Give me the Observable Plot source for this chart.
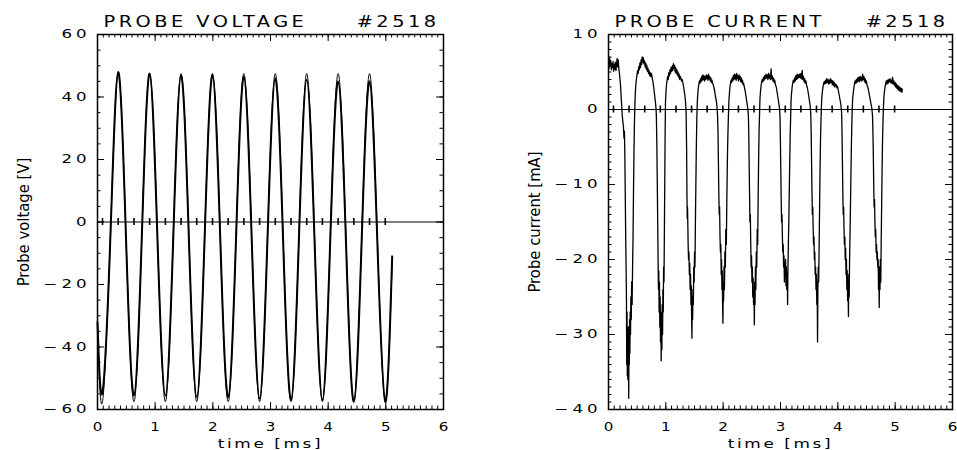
<!DOCTYPE html>
<html>
<head>
<meta charset="utf-8">
<script src="https://cdn.jsdelivr.net/npm/d3@7"></script>
<script src="https://cdn.jsdelivr.net/npm/@observablehq/plot@0.6"></script>
<style>
  body { margin: 0; background: #fff; }
  #charts { display: flex; width: 957px; height: 450px; }
  #charts svg { display: block; }
</style>
</head>
<body>
<div id="charts"></div>
<script>
// Times of the voltage extrema (troughs and crests), marked on the zero line
const extremaTimes = [0.087, 0.359, 0.632, 0.904, 1.177, 1.449, 1.721, 1.994, 2.266, 2.538,
  2.811, 3.083, 3.356, 3.628, 3.900, 4.173, 4.445, 4.717, 4.990];

// Probe voltage: samples at the extrema and the mid-swing points [ms]
const voltageTime = [0, 0.087, 0.223, 0.359, 0.495, 0.632, 0.768, 0.904, 1.040, 1.177, 1.313,
  1.449, 1.585, 1.721, 1.857, 1.994, 2.130, 2.266, 2.402, 2.538, 2.675, 2.811, 2.947, 3.083,
  3.219, 3.356, 3.492, 3.628, 3.764, 3.900, 4.036, 4.173, 4.309, 4.445, 4.581, 4.717, 4.853,
  4.990, 5.110];
// measured probe voltage [V]
const voltageMeasured = [-32, -54.5, -5, 48, -5.5, -55.5, -5, 47.5, -5.5, -55.5, -5.5, 47, -5.5,
  -56, -5.5, 47, -6, -56, -5.5, 46.5, -6, -56.5, -6, 46, -6, -57, -6, 45.5, -6, -57, -6, 45,
  -6.5, -57.5, -6, 45, -6.5, -57.5, -11];
// sine fit to the probe voltage [V]
const voltageFit = [-33, -57.5, -5, 47.5, -5, -57.5, -5, 47.5, -5, -57.5, -5, 47.5, -5, -57.5,
  -5, 47.5, -5, -57.5, -5, 47.5, -5, -57.5, -5, 47.5, -5, -57.5, -5, 47.5, -5, -57.5, -5, 47.5,
  -5, -57.5, -5, 47.5, -5, -57.5, -13];

// Probe current [time ms, current mA]
const probeCurrent = [
  [0.000, 6.2],[0.010, 5.5],[0.020, 6.9],[0.030, 5.8],[0.040, 6.5],[0.050, 5.3],[0.060, 6.1],[0.070, 5.6],
  [0.080, 6.4],[0.090, 5.1],[0.100, 6.0],[0.110, 5.4],[0.120, 6.3],[0.130, 5.2],[0.140, 6.0],[0.150, 6.8],
  [0.160, 5.7],[0.170, 6.6],[0.180, 5.5],[0.190, 4.9],[0.200, 4.1],[0.210, 3.2],[0.220, 1.8],[0.230, 0.6],
  [0.240, -0.8],[0.250, -1.6],[0.260, -2.2],[0.270, -3.8],[0.278, -2.9],[0.285, -6],[0.292, -11],[0.300, -17],
  [0.307, -21],[0.313, -25],[0.318, -34],[0.323, -27],[0.328, -35.5],[0.333, -30],[0.338, -36],[0.343, -29],
  [0.348, -33],[0.353, -38.5],[0.358, -30],[0.363, -34],[0.368, -28],[0.373, -32.5],[0.378, -27],[0.384, -30],
  [0.390, -25],[0.397, -28],[0.404, -23],[0.412, -26],[0.420, -21],[0.428, -17],[0.436, -11],[0.444, -6],
  [0.452, -2],[0.460, 0.5],
  [0.468, 2.2],[0.478, 3.4],[0.488, 4.1],[0.498, 4.7],[0.508, 5.2],[0.518, 4.8],[0.528, 5.7],[0.538, 5.3],
  [0.548, 6.2],[0.558, 5.6],[0.568, 6.6],[0.578, 6.0],[0.588, 7.0],[0.598, 6.3],[0.608, 6.9],[0.618, 6.1],
  [0.628, 6.5],[0.638, 5.7],[0.648, 6.2],[0.658, 5.4],[0.668, 5.9],[0.678, 5.1],[0.688, 5.5],[0.698, 4.8],
  [0.708, 5.2],[0.718, 4.5],[0.728, 4.9],[0.738, 4.4],[0.750, 4.8],[0.762, 4.2],[0.775, 3.7],[0.788, 3.0],
  [0.800, 2.2],[0.812, 1.4],[0.824, 0.6],[0.834, -0.6],
  [0.842, -4],[0.850, -9],[0.858, -15],[0.865, -20],[0.871, -24],[0.877, -21.5],[0.883, -27],[0.889, -23],
  [0.895, -29],[0.901, -25],[0.907, -31],[0.913, -27],[0.919, -33.5],[0.925, -28],[0.931, -32],[0.937, -26],
  [0.943, -30],[0.949, -24],[0.955, -27],[0.961, -21],[0.968, -23],[0.975, -16],[0.982, -9],[0.988, -3],
  [0.994, 1.0],
  [1.002, 2.3],[1.012, 3.3],[1.022, 3.9],[1.032, 4.4],[1.042, 4.0],[1.052, 4.9],[1.062, 4.5],[1.072, 5.3],
  [1.082, 4.8],[1.092, 5.6],[1.102, 5.1],[1.112, 5.8],[1.122, 5.2],[1.132, 6.1],[1.142, 5.5],[1.152, 5.9],
  [1.162, 5.0],[1.172, 5.6],[1.182, 4.8],[1.192, 5.3],[1.202, 4.6],[1.212, 5.0],[1.222, 4.3],[1.232, 4.7],
  [1.242, 4.0],[1.252, 4.4],[1.262, 4.2],[1.274, 3.8],[1.286, 4.0],[1.298, 3.5],[1.310, 3.0],[1.322, 2.4],
  [1.334, 1.8],[1.346, 0.8],[1.354, -0.5],
  [1.362, -5],[1.368, -11],[1.373, -14.5],[1.378, -13],[1.383, -15],[1.389, -18],[1.396, -20],[1.403, -19],
  [1.410, -22],[1.417, -20.5],[1.424, -24],[1.431, -22],[1.438, -26],[1.444, -23.5],[1.450, -28],[1.455, -30.5],
  [1.461, -25],[1.467, -28],[1.473, -24],[1.480, -26],[1.487, -21],[1.494, -23],[1.501, -19],[1.508, -21],
  [1.516, -15],[1.524, -10],[1.532, -5],[1.540, -1.5],[1.548, 0.8],
  [1.556, 1.9],[1.565, 2.8],[1.575, 3.3],[1.585, 3.8],[1.595, 3.5],[1.605, 4.1],[1.615, 3.7],[1.625, 4.4],
  [1.635, 3.9],[1.645, 4.6],[1.655, 4.0],[1.665, 4.5],[1.675, 3.8],[1.685, 4.4],[1.695, 4.0],[1.705, 4.6],
  [1.715, 4.1],[1.725, 4.5],[1.735, 3.9],[1.745, 4.7],[1.755, 4.1],[1.765, 4.4],[1.775, 3.8],[1.785, 4.2],
  [1.795, 3.6],[1.805, 3.9],[1.815, 3.5],[1.827, 3.3],[1.840, 2.9],[1.853, 2.4],[1.866, 1.7],[1.879, 1.2],
  [1.892, 0.4],[1.902, -0.8],
  [1.910, -3],[1.917, -7],[1.924, -11],[1.931, -14],[1.938, -13],[1.945, -17],[1.952, -19],[1.959, -18],
  [1.966, -22],[1.972, -20],[1.978, -24],[1.984, -21.5],[1.990, -26],[1.996, -28.5],[2.002, -23],[2.008, -25.5],
  [2.015, -21],[2.022, -24],[2.030, -19],[2.038, -21],[2.046, -16],[2.055, -18],[2.064, -12],[2.073, -7],
  [2.082, -3.5],[2.091, -1],[2.100, 1.2],
  [2.108, 2.0],[2.117, 2.9],[2.127, 3.4],[2.137, 3.9],[2.147, 3.6],[2.157, 4.2],[2.167, 3.8],[2.177, 4.5],
  [2.187, 4.0],[2.197, 4.7],[2.207, 4.1],[2.217, 4.6],[2.227, 3.9],[2.237, 4.8],[2.247, 4.2],[2.257, 4.5],
  [2.267, 3.8],[2.277, 4.6],[2.287, 4.0],[2.297, 4.4],[2.307, 3.7],[2.317, 4.2],[2.327, 3.6],[2.337, 3.9],
  [2.347, 3.3],[2.357, 3.5],[2.369, 3.0],[2.381, 2.6],[2.393, 2.0],[2.405, 1.4],[2.417, 0.8],[2.429, 0.2],
  [2.440, -0.8],
  [2.446, -3],[2.453, -7],[2.460, -11],[2.467, -15],[2.474, -14],[2.481, -18],[2.488, -21],[2.495, -19.5],
  [2.502, -23],[2.509, -21],[2.516, -25],[2.523, -22.5],[2.530, -26],[2.537, -24],[2.544, -28.7],[2.550, -23],
  [2.556, -26],[2.563, -21],[2.570, -24],[2.578, -19],[2.586, -21],[2.594, -16],[2.602, -18],[2.610, -12],
  [2.618, -7],[2.626, -3],[2.634, -0.8],[2.642, 1.5],
  [2.650, 2.3],[2.660, 3.1],[2.670, 3.6],[2.681, 4.0],[2.692, 3.7],[2.703, 4.3],[2.714, 3.9],[2.725, 4.5],
  [2.736, 4.1],[2.747, 4.7],[2.758, 4.2],[2.769, 4.6],[2.780, 4.0],[2.791, 4.8],[2.802, 4.2],[2.813, 4.6],
  [2.824, 4.0],[2.836, 5.4],[2.845, 4.1],[2.856, 4.5],[2.867, 3.8],[2.878, 4.2],[2.889, 3.6],[2.900, 3.9],
  [2.911, 3.3],[2.923, 3.1],[2.935, 2.6],[2.947, 2.0],[2.959, 1.4],[2.971, 0.8],[2.982, 0.2],[2.991, -0.8],
  [2.998, -4],[3.005, -8],[3.012, -12],[3.019, -15],[3.026, -14],[3.033, -17],[3.040, -19],[3.047, -18],
  [3.054, -21],[3.061, -19.5],[3.068, -23],[3.075, -20.5],[3.082, -22],[3.089, -20],[3.096, -23.5],[3.103, -21],
  [3.110, -24],[3.117, -22],[3.124, -26],[3.130, -21],[3.137, -18],[3.145, -15],[3.153, -11],[3.161, -7],
  [3.169, -3.5],[3.177, -1],[3.185, 1.3],
  [3.193, 2.2],[3.203, 3.0],[3.213, 3.5],[3.224, 3.9],[3.235, 3.6],[3.246, 4.2],[3.257, 3.8],[3.268, 4.5],
  [3.279, 4.0],[3.290, 4.7],[3.301, 4.1],[3.312, 4.6],[3.323, 4.3],[3.334, 4.7],[3.345, 4.2],[3.356, 4.8],
  [3.367, 4.1],[3.378, 5.2],[3.389, 4.0],[3.400, 4.4],[3.411, 3.7],[3.422, 4.1],[3.433, 3.5],[3.444, 3.8],
  [3.456, 3.2],[3.468, 2.9],[3.480, 2.4],[3.492, 1.8],[3.504, 1.2],[3.516, 0.6],[3.527, -0.4],
  [3.535, -3],[3.542, -7],[3.549, -11],[3.556, -14],[3.563, -13],[3.570, -16],[3.577, -18],[3.584, -17],
  [3.591, -20],[3.598, -19],[3.605, -22],[3.612, -21],[3.619, -24],[3.626, -22],[3.633, -26],[3.640, -23],
  [3.646, -31],[3.652, -24],[3.659, -21],[3.666, -23],[3.674, -18],[3.682, -13],[3.690, -8],[3.698, -4],
  [3.706, -1.5],[3.714, 0.5],[3.722, 1.8],
  [3.731, 2.4],[3.741, 3.0],[3.751, 3.4],[3.762, 3.7],[3.773, 3.4],[3.784, 3.9],[3.795, 3.5],[3.806, 4.1],
  [3.817, 3.6],[3.828, 4.0],[3.839, 3.4],[3.850, 3.9],[3.861, 3.5],[3.872, 4.1],[3.883, 3.6],[3.894, 3.9],
  [3.905, 3.3],[3.916, 3.8],[3.927, 3.2],[3.938, 3.6],[3.949, 3.0],[3.960, 3.4],[3.971, 3.3],[3.983, 2.9],
  [3.995, 3.1],[4.007, 2.6],[4.019, 2.1],[4.031, 1.6],[4.043, 1.1],[4.055, 0.5],[4.066, -0.4],
  [4.073, -3],[4.080, -7],[4.087, -11],[4.094, -14],[4.101, -13],[4.108, -16],[4.115, -18],[4.122, -17],
  [4.129, -20],[4.136, -18.5],[4.143, -22],[4.150, -20],[4.157, -24],[4.164, -21.5],[4.171, -25.5],[4.178, -23],
  [4.185, -27.6],[4.191, -22],[4.198, -25],[4.205, -20],[4.212, -17],[4.220, -13],[4.228, -9],[4.236, -5],
  [4.244, -2],[4.252, 0.3],[4.260, 1.6],
  [4.269, 2.2],[4.279, 2.9],[4.290, 3.4],[4.301, 3.8],[4.312, 3.5],[4.323, 4.0],[4.334, 3.6],[4.345, 4.2],
  [4.356, 3.8],[4.367, 4.3],[4.378, 3.7],[4.389, 4.4],[4.400, 3.9],[4.411, 4.3],[4.422, 3.8],[4.433, 4.7],
  [4.444, 4.0],[4.455, 4.4],[4.466, 3.7],[4.477, 4.1],[4.488, 3.5],[4.499, 3.8],[4.510, 3.2],[4.522, 3.0],
  [4.534, 2.6],[4.546, 2.1],[4.558, 1.6],[4.570, 1.1],[4.582, 0.6],[4.594, 0.1],[4.605, -0.8],
  [4.612, -3],[4.619, -6],[4.626, -10],[4.633, -13],[4.640, -12],[4.647, -15],[4.654, -17],[4.661, -16],
  [4.668, -19],[4.675, -18],[4.682, -20],[4.689, -19],[4.696, -21],[4.703, -20],[4.710, -24],[4.716, -22],
  [4.722, -26.4],[4.728, -21],[4.735, -24],[4.742, -20],[4.749, -23],[4.756, -18],[4.764, -13],[4.772, -8],
  [4.780, -4],[4.788, -1.5],[4.796, 0.4],[4.804, 1.7],
  [4.813, 2.4],[4.823, 3.0],[4.834, 3.4],[4.845, 3.8],[4.856, 3.4],[4.867, 3.9],[4.878, 3.5],[4.889, 4.0],
  [4.900, 3.7],[4.911, 4.1],[4.922, 3.6],[4.933, 3.9],[4.944, 3.5],[4.955, 4.3],[4.966, 3.4],[4.977, 3.8],
  [4.988, 3.2],[4.999, 3.6],[5.010, 3.0],[5.021, 3.4],[5.032, 2.8],[5.043, 3.2],[5.054, 2.6],[5.065, 3.1],
  [5.076, 2.5],[5.087, 2.9],[5.098, 2.4],[5.109, 2.8],[5.118, 2.3],[5.125, 2.7]
];

// Axis ticks
const timeTicks = [0, 1, 2, 3, 4, 5, 6];
const voltageTicks = [-60, -40, -20, 0, 20, 40, 60];
const currentTicks = [-40, -30, -20, -10, 0, 10];

const HEIGHT = 450, MARGIN_TOP = 34, MARGIN_BOTTOM = 41;
const STROKE_FONT = "DejaVu Sans, Verdana, sans-serif";
const fmt = d => d < 0 ? "\u2212" + Math.abs(d) : String(d);

// Text sizes double as keys for the wide, spaced-out plotter lettering
const XTICK_SIZE = 11.6, YTICK_SIZE = 11.5, TITLE_SIZE = 15, XTITLE_SIZE = 13;
const lettering = {
  [XTICK_SIZE]: {stretch: 1.3, spacing: 0},
  [YTICK_SIZE]: {stretch: 1.45, spacing: 2.7},
  [TITLE_SIZE]: {stretch: 1.29, spacing: 2.7},
  [XTITLE_SIZE]: {stretch: 1.3, spacing: 2}
};

function applyLettering(svg) {
  d3.select(svg).selectAll("text").each(function () {
    const style = lettering[this.parentNode.getAttribute("font-size")];
    if (!style) return;
    this.style.letterSpacing = style.spacing + "px";
    this.setAttribute("transform", (this.getAttribute("transform") || "") + ` scale(${style.stretch},1)`);
  });
}

function panel({width, marginLeft, marginRight, yDomain, yMajor, yMinorStep, title, shot, yLabel, curves}) {
  const innerW = width - marginLeft - marginRight;
  const innerH = HEIGHT - MARGIN_TOP - MARGIN_BOTTOM;
  const xMinor = d3.range(0, 6.0001, 0.1);
  const yMinor = d3.range(yDomain[0], yDomain[1] + 1e-6, yMinorStep);
  const major = 7, minor = 3.5;
  const svg = Plot.plot({
    width, height: HEIGHT, marginLeft, marginRight, marginTop: MARGIN_TOP, marginBottom: MARGIN_BOTTOM,
    style: {background: "#fff", color: "#000", overflow: "visible"},
    x: {domain: [0, 6], axis: null},
    y: {domain: yDomain, axis: null},
    marks: [
      ...curves,
      Plot.ruleY([0], {stroke: "#000", strokeWidth: 1}),
      Plot.ruleX(extremaTimes, {x: d => d, y1: 0, y2: 0, insetTop: -3.5, insetBottom: -3.5, strokeWidth: 1.6}),
      // inward ticks on all four sides
      Plot.ruleX(xMinor, {x: d => d, insetTop: innerH - minor}),
      Plot.ruleX(xMinor, {x: d => d, insetBottom: innerH - minor}),
      Plot.ruleX(timeTicks, {x: d => d, insetTop: innerH - major}),
      Plot.ruleX(timeTicks, {x: d => d, insetBottom: innerH - major}),
      Plot.ruleY(yMinor, {y: d => d, insetRight: innerW - minor}),
      Plot.ruleY(yMinor, {y: d => d, insetLeft: innerW - minor}),
      Plot.ruleY(yMajor, {y: d => d, insetRight: innerW - major}),
      Plot.ruleY(yMajor, {y: d => d, insetLeft: innerW - major}),
      Plot.frame({stroke: "#000", strokeWidth: 1.5}),
      Plot.text(timeTicks, {x: d => d, text: fmt, frameAnchor: "bottom", dy: 17.5, lineAnchor: "middle",
        fontFamily: STROKE_FONT, fontSize: XTICK_SIZE}),
      Plot.text(yMajor, {y: d => d, text: fmt, frameAnchor: "left", dx: -7, textAnchor: "end", lineAnchor: "middle",
        fontFamily: STROKE_FONT, fontSize: YTICK_SIZE}),
      Plot.text([title], {text: d => d, frameAnchor: "top-left", dx: 6, dy: -12.5, textAnchor: "start",
        lineAnchor: "middle", fontFamily: STROKE_FONT, fontSize: TITLE_SIZE}),
      Plot.text([shot], {text: d => d, frameAnchor: "top-right", dx: -4, dy: -12.5, textAnchor: "end",
        lineAnchor: "middle", fontFamily: STROKE_FONT, fontSize: TITLE_SIZE}),
      Plot.text(["time [ms]"], {text: d => d, frameAnchor: "bottom", dy: 34.5, lineAnchor: "middle",
        fontFamily: STROKE_FONT, fontSize: XTITLE_SIZE}),
      Plot.text([yLabel], {text: d => d, frameAnchor: "left", dx: -74, rotate: -90, textAnchor: "middle",
        lineAnchor: "middle", fontSize: 16.5,
        fontFamily: "Liberation Sans Narrow, DejaVu Sans Condensed, Liberation Sans, sans-serif"})
    ]
  });
  applyLettering(svg);
  return svg;
}

const voltagePanel = panel({
  width: 478, marginLeft: 97, marginRight: 35,
  yDomain: [-60, 60], yMajor: voltageTicks, yMinorStep: 5,
  title: "PROBE VOLTAGE", shot: "#2518", yLabel: "Probe voltage [V]",
  curves: [
    Plot.line(voltageFit, {x: (d, i) => voltageTime[i], y: d => d, curve: "natural", stroke: "#000", strokeWidth: 1}),
    Plot.line(voltageMeasured, {x: (d, i) => voltageTime[i], y: d => d, curve: "natural", stroke: "#000", strokeWidth: 2})
  ]
});

const currentPanel = panel({
  width: 479, marginLeft: 130, marginRight: 5,
  yDomain: [-40, 10], yMajor: currentTicks, yMinorStep: 1,
  title: "PROBE CURRENT", shot: "#2518", yLabel: "Probe current [mA]",
  curves: [
    Plot.line(probeCurrent, {x: d => d[0], y: d => d[1], stroke: "#000", strokeWidth: 1.3})
  ]
});

document.getElementById("charts").append(voltagePanel, currentPanel);
</script>
</body>
</html>
